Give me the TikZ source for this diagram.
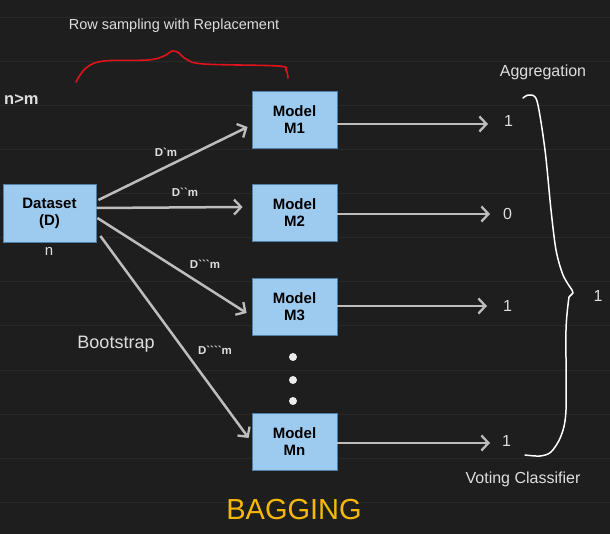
\documentclass[tikz,border=0pt]{standalone}
\usepackage{fontspec}
\setmainfont{Liberation Sans}
\usetikzlibrary{arrows.meta,calc}
\definecolor{bg}{HTML}{1E1E1E}
\definecolor{gridc}{HTML}{282828}
\definecolor{boxfill}{HTML}{9DCBF0}
\definecolor{boxline}{HTML}{4F7FA8}
\definecolor{arrc}{HTML}{BDBDBD}
\definecolor{txtc}{HTML}{DEDEDE}
\definecolor{bracered}{HTML}{E0121C}
\definecolor{bagy}{HTML}{F5B80A}
\newcommand{\fsz}[1]{\fontsize{#1}{#1}\selectfont}
\newcommand{\gr}{\textasciigrave}
\tikzset{
  modelbox/.style={draw=boxline, line width=0.8pt, fill=boxfill, minimum width=85pt, minimum height=57pt,
    inner sep=0pt, align=center, font=\fsz{15}\bfseries, text=black},
  inarr/.style={draw=arrc, line width=2.5pt, -{Straight Barb[length=7pt,width=15pt,line width=2.3pt]}},
  lbl/.style={text=txtc, inner sep=0pt},
  dlbl/.style={text=txtc, inner sep=0pt, font=\fsz{11.5}\bfseries},
  vlbl/.style={text=txtc, inner sep=0pt, font=\fsz{16}, anchor=west},
}
\begin{document}
\begin{tikzpicture}[x=1pt,y=-1pt]
\useasboundingbox (0,0) rectangle (610,534);
\fill[bg] (0,0) rectangle (610,534);
\foreach \k in {0,...,11} {\draw[gridc, line width=1pt] (0,18+44*\k) -- (610,18+44*\k);}

% texts
\node[lbl, font=\fsz{14.5}] (rowt) at (174,26) {Row sampling with Replacement};
\node[lbl, font=\fsz{16.5}\bfseries, anchor=west] (nm) at (4,100) {n>m};
\node[lbl, font=\fsz{18}] (boot) at (116,344) {Bootstrap};
\node[lbl, font=\fsz{16}] (aggr) at (543,72) {Aggregation};
\node[lbl, font=\fsz{16}] (vote) at (523,479) {Voting Classifier};
\node[lbl, font=\fsz{29}, text=bagy] (bag) at (294,510) {BAGGING};

% red brace
\draw[bracered, line width=1.6pt, line cap=round] plot[smooth, tension=0.6] coordinates
  {(76,82) (86,68) (104,61) (148,60) (164,56) (172,51) (179,53) (186,59) (204,64) (278,66) (286,70) (288,78)};

% boxes
\node[modelbox, minimum width=93pt, minimum height=58pt] (ds) at (49.5,213) {Dataset\\[2pt](D)};
\node[lbl, font=\fsz{15}] (n) at (49,251) {n};
\node[modelbox] (m1) at (294.5,119.5) {Model\\[2pt]M1};
\node[modelbox] (m2) at (294.5,213) {Model\\[2pt]M2};
\node[modelbox] (m3) at (294.5,307) {Model\\[2pt]M3};
\node[modelbox] (mn) at (294.5,441.5) {Model\\[2pt]Mn};

% dots
\foreach \yy in {357,380,401} {\fill[white!92!black] (293,\yy) circle (4pt);}

% input arrows
\draw[inarr] ($(ds.east)+(2,-13)$) -- ($(m1.west)+(-4,7.5)$);
\draw[inarr] ($(ds.east)+(0,-5)$) -- ($(m2.west)+(-9,-6)$);
\draw[inarr] ($(ds.east)+(1,5)$) -- ($(m3.west)+(-5,6)$);
\draw[inarr] ($(ds.east)+(4,23)$) -- ($(mn.west)+(-3,-3.5)$);

\node[dlbl] (d1) at (166,152) {D\gr m};
\node[dlbl] (d2) at (185,192) {D\gr\gr m};
\node[dlbl] (d3) at (205,264) {D\gr\gr\gr m};
\node[dlbl] (d4) at (215,350) {D\gr\gr\gr\gr m};

% outputs
\node[vlbl] (v1) at (504,121) {1};
\node[vlbl] (v2) at (503,214) {0};
\node[vlbl] (v3) at (503,306) {1};
\node[vlbl] (v4) at (502,441) {1};
\draw[inarr] (m1.east |- 0,124) -- (488,124);
\draw[inarr] (m2.east |- 0,214) -- (490,214);
\draw[inarr] (m3.east |- 0,306) -- (487,306);
\draw[inarr] (mn.east |- 0,443) -- (490,443);

% white brace
\draw[white, line width=1.5pt, line cap=round, line join=round] plot[smooth, tension=0.5] coordinates
  {(523,98) (529,95) (537,101) (545,150) (551,210) (556,250) (563,275) (572,290)}
  -- (573,293) -- (569,297)
  plot[smooth, tension=0.5] coordinates {(569,297) (566,330) (566,410) (561,436) (551,452) (540,456) (525,455)};
\node[lbl, font=\fsz{16}] (res) at (598,296) {1};
\end{tikzpicture}
\end{document}
